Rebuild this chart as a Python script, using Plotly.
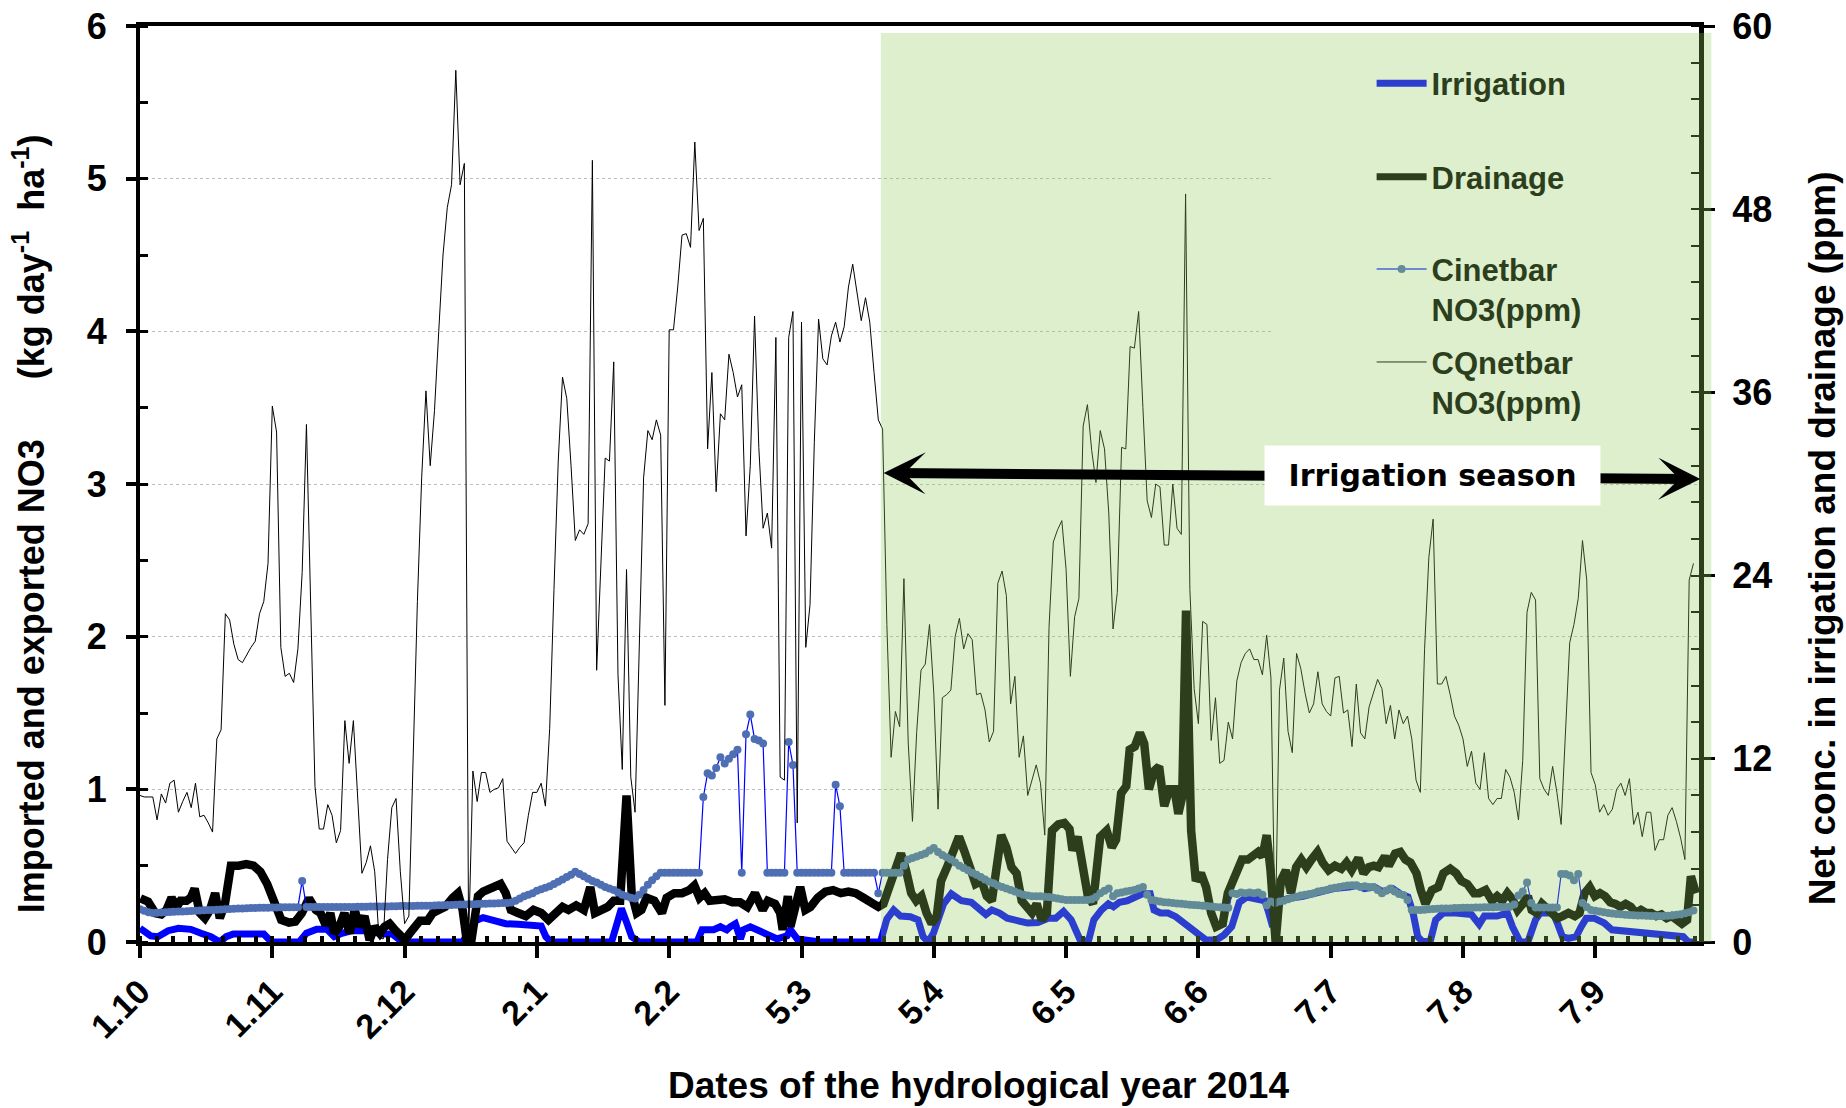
import plotly.graph_objects as go
from datetime import date

# ---------------- data ----------------
START = date(2013, 10, 1)          # day 0 of the hydrological year 2014
tick_dates = [date(2013, 10, 1), date(2013, 11, 1), date(2013, 12, 2), date(2014, 1, 2),
              date(2014, 2, 2), date(2014, 3, 5), date(2014, 4, 5), date(2014, 5, 6),
              date(2014, 6, 6), date(2014, 7, 7), date(2014, 8, 7), date(2014, 9, 7)]
tick_vals = [(d - START).days for d in tick_dates]
tick_text = [f"{d.day}.{d.month}" for d in tick_dates]

season_start = date(2014, 3, 23)   # start of irrigation season

days = list(range(365))

# CQnetbar NO3 (ppm), daily, right axis
cqnetbar_ppm = [
    9.6, 9.5, 9.5, 9.5, 8.0, 9.7, 9.1, 10.4, 10.6, 8.5,
    9.2, 9.8, 8.8, 10.4, 8.2, 8.3, 7.8, 7.2, 13.3, 13.9,
    21.5, 21.1, 19.5, 18.5, 18.3, 18.8, 19.3, 19.7, 21.5, 22.3,
    24.8, 35.1, 33.4, 19.3, 17.4, 17.6, 17.0, 19.2, 24.2, 33.9,
    21.5, 10.2, 7.4, 7.4, 9.0, 8.3, 6.5, 7.3, 14.5, 11.7,
    14.5, 9.6, 4.5, 5.2, 6.3, 4.6, 0.3, 0.2, 5.4, 8.8,
    9.4, 4.6, 1.2, 1.7, 11.9, 22.3, 30.4, 36.1, 31.2, 34.8,
    40.0, 45.0, 48.1, 49.6, 57.1, 49.6, 51.0, 0.0, 11.2, 9.2,
    11.1, 11.1, 9.8, 10.0, 10.1, 10.7, 6.6, 6.2, 5.8, 6.2,
    6.5, 8.3, 9.8, 9.8, 10.4, 8.9, 14.0, 23.1, 31.5, 37.0,
    35.6, 31.2, 26.3, 27.0, 26.7, 27.4, 51.2, 17.8, 24.4, 31.7,
    31.5, 38.0, 17.5, 11.3, 24.4, 10.8, 8.5, 19.8, 30.4, 33.5,
    32.9, 34.2, 33.2, 15.5, 40.1, 40.1, 42.9, 46.3, 46.4, 45.5,
    52.4, 46.6, 47.4, 32.3, 37.3, 29.5, 34.6, 34.2, 38.5, 37.3,
    35.7, 36.5, 26.6, 31.2, 41.0, 32.4, 27.1, 28.1, 25.8, 39.6,
    10.8, 10.6, 39.6, 41.3, 7.8, 40.6, 19.3, 22.1, 32.7, 40.8,
    38.2, 37.8, 39.7, 40.6, 39.3, 40.3, 42.9, 44.4, 42.5, 40.7,
    42.2, 40.6, 37.3, 34.2, 33.6, 20.8, 12.1, 15.1, 14.1, 23.8,
    13.1, 7.9, 13.8, 17.8, 18.2, 20.8, 16.3, 8.7, 16.0, 16.2,
    16.5, 20.0, 21.2, 19.2, 20.2, 19.8, 16.2, 16.3, 15.2, 13.1,
    13.8, 23.5, 24.3, 22.7, 15.6, 17.4, 12.1, 13.5, 9.6, 10.6,
    11.6, 10.4, 7.0, 20.6, 26.2, 27.0, 27.6, 24.4, 17.4, 21.3,
    22.5, 33.8, 35.2, 32.2, 30.1, 33.5, 32.3, 28.1, 20.5, 22.9,
    32.4, 32.3, 39.0, 38.9, 41.3, 35.0, 28.9, 27.8, 30.0, 29.8,
    26.0, 26.0, 30.0, 27.1, 26.7, 49.0, 23.1, 16.6, 14.3, 21.0,
    20.8, 13.2, 16.0, 11.7, 11.9, 14.4, 13.3, 17.1, 18.3, 18.9,
    19.2, 18.5, 18.5, 17.5, 20.1, 17.3, 0.0, 16.5, 18.6, 13.8,
    12.4, 18.9, 17.9, 16.3, 15.0, 15.6, 17.7, 15.6, 15.1, 14.8,
    17.3, 17.4, 15.0, 15.2, 12.8, 16.9, 13.7, 13.3, 15.4, 16.3,
    17.2, 16.6, 14.3, 15.5, 13.3, 15.2, 14.3, 14.8, 13.3, 10.6,
    9.8, 19.2, 25.2, 27.7, 16.9, 16.9, 17.4, 16.2, 14.8, 14.2,
    13.3, 11.5, 12.5, 10.4, 10.0, 12.4, 9.4, 9.0, 9.4, 9.4,
    11.3, 10.8, 9.8, 8.0, 11.9, 21.6, 22.9, 22.4, 10.7, 10.0,
    9.6, 11.5, 9.8, 7.7, 13.8, 19.6, 20.8, 22.5, 26.3, 23.7,
    11.1, 10.3, 8.5, 9.0, 8.3, 8.7, 10.0, 10.4, 9.6, 10.7,
    7.7, 8.5, 6.9, 8.5, 8.5, 6.0, 6.7, 6.7, 8.3, 8.8,
    7.9, 6.8, 5.4, 23.7, 24.8,
]

# Cinetbar NO3 (ppm), daily, right axis
cinetbar_ppm = [
    2.14, 2.05, 1.95, 1.90, 1.92, 1.94, 1.95, 1.97, 1.98, 1.99,
    2.00, 2.02, 2.03, 2.05, 2.06, 2.08, 2.09, 2.10, 2.12, 2.13,
    2.15, 2.16, 2.18, 2.19, 2.20, 2.21, 2.22, 2.23, 2.24, 2.25,
    2.25, 2.26, 2.26, 2.27, 2.27, 2.27, 2.28, 2.28, 4.00, 2.30,
    2.30, 2.30, 2.30, 2.30, 2.30, 2.30, 2.30, 2.30, 2.30, 2.30,
    2.30, 2.31, 2.31, 2.31, 2.32, 2.32, 2.32, 2.33, 2.33, 2.34,
    2.34, 2.35, 2.35, 2.36, 2.36, 2.37, 2.37, 2.38, 2.38, 2.39,
    2.40, 2.41, 2.42, 2.43, 2.44, 2.45, 2.46, 2.47, 2.48, 2.49,
    2.50, 2.51, 2.52, 2.53, 2.54, 2.55, 2.56, 2.58, 2.70, 2.85,
    3.00, 3.10, 3.20, 3.35, 3.45, 3.55, 3.65, 3.80, 3.95, 4.10,
    4.25, 4.40, 4.60, 4.45, 4.30, 4.15, 4.00, 3.90, 3.75, 3.60,
    3.50, 3.40, 3.25, 3.10, 3.00, 2.90, 2.85, 3.10, 3.40, 3.75,
    4.05, 4.30, 4.54, 4.54, 4.54, 4.54, 4.54, 4.54, 4.54, 4.54,
    4.54, 4.54, 9.50, 11.05, 10.90, 11.40, 12.10, 11.70, 12.00, 12.30,
    12.60, 4.54, 13.60, 14.90, 13.30, 13.20, 13.00, 4.54, 4.54, 4.54,
    4.54, 4.54, 13.10, 11.60, 4.54, 4.54, 4.54, 4.54, 4.54, 4.54,
    4.54, 4.54, 4.54, 10.30, 8.90, 4.54, 4.54, 4.54, 4.54, 4.54,
    4.54, 4.54, 4.54, 3.20, 4.54, 4.54, 4.54, 4.54, 4.54, 5.00,
    5.40, 5.50, 5.60, 5.70, 5.80, 6.00, 6.15, 5.90, 5.70, 5.55,
    5.40, 5.20, 5.00, 4.85, 4.70, 4.54, 4.40, 4.25, 4.10, 3.95,
    3.85, 3.70, 3.60, 3.50, 3.40, 3.30, 3.20, 3.10, 3.05, 3.00,
    3.00, 3.00, 2.97, 2.95, 2.90, 2.85, 2.80, 2.75, 2.75, 2.75,
    2.75, 2.75, 2.75, 2.80, 2.95, 3.20, 3.35, 3.50, 3.00, 3.20,
    3.25, 3.30, 3.35, 3.40, 3.50, 3.60, 3.10, 2.75, 2.70, 2.65,
    2.60, 2.58, 2.55, 2.52, 2.50, 2.47, 2.44, 2.42, 2.40, 2.38,
    2.35, 2.33, 2.30, 2.28, 2.26, 2.24, 3.19, 3.15, 3.25, 3.20,
    3.25, 3.20, 3.25, 3.10, 2.40, 2.65, 2.55, 2.65, 2.70, 2.80,
    2.90, 2.97, 3.05, 3.10, 3.15, 3.20, 3.30, 3.35, 3.40, 3.50,
    3.55, 3.60, 3.65, 3.70, 3.72, 3.72, 3.60, 3.65, 3.60, 3.60,
    3.40, 3.20, 3.35, 3.50, 3.30, 3.15, 3.08, 2.75, 2.10, 2.10,
    2.10, 2.12, 2.14, 2.16, 2.18, 2.20, 2.20, 2.20, 2.22, 2.22,
    2.24, 2.25, 2.25, 2.26, 2.26, 2.27, 2.28, 2.28, 2.29, 2.30,
    2.30, 2.31, 2.45, 3.05, 3.30, 3.90, 2.55, 2.26, 2.26, 2.26,
    2.26, 2.26, 2.26, 4.45, 4.45, 4.35, 4.05, 4.45, 2.55, 2.30,
    2.10, 2.05, 2.00, 1.95, 1.90, 1.87, 1.84, 1.81, 1.79, 1.77,
    1.76, 1.74, 1.73, 1.72, 1.71, 1.70, 1.70, 1.71, 1.72, 1.74,
    1.78, 1.82, 1.88, 1.95, 2.06,
]

# Irrigation NO3 (kg day-1 ha-1), vertices: day / value, left axis
irrigation_day = [
    0, 2.5, 4.2, 6.6, 9, 11.9, 14.3, 16.6, 18.7, 20.2, 21.9, 25.5, 29, 30.8, 37.3, 39, 41.4,
    43.8, 45.5, 47.3, 49.7, 53.2, 55.6, 56.8, 59.1, 61.5, 75.6, 78.6, 80.4, 82.1, 83.9, 85.7,
    88.6, 92.2, 94, 95.1, 96.3, 110.5, 111.6, 112.8, 114, 115.2, 117, 130.5, 131.7, 134.4,
    136, 137.5, 138.3, 139.5, 140.7, 141.4, 143, 144.6, 146.9, 149.3, 151.6, 152.4, 154,
    159.4, 173.5, 175, 176.6, 178.2, 180.5, 182.3, 183.5, 184.7, 185.9, 187.1, 188.3, 190.1,
    191.3, 192.5, 194.8, 196.6, 198.2, 199.6, 201.4, 203.2, 205.6, 208, 210.4, 212.8, 214.6,
    216.4, 218.2, 219.4, 220.5, 222.3, 223.5, 225.3, 226.9, 228.1, 229.5, 231.3, 233.1,
    234.9, 236.7, 237.6, 239.1, 240.9, 242.7, 244.5, 246.3, 248, 249.8, 252.2, 254, 255.8,
    257.6, 259.4, 261.8, 263.6, 264.5, 265.4, 266.6, 269, 272.5, 276.1, 279.7, 283.3, 285.1,
    286.9, 289.3, 291.1, 293.5, 295.3, 297.1, 298.3, 299.4, 300.6, 302.4, 303.6, 305.4,
    308.4, 312, 313.8, 315, 318, 320.4, 321.6, 323.4, 325.2, 327, 328.1, 331.1, 332.1, 333.3,
    334.7, 336.5, 337.7, 338.9, 340.7, 343.1, 344.9, 347.3, 350.3, 352.6, 355, 357.4, 359.8,
    361.6, 362.8, 364.6,
]
irrigation_kg = [
    0.09, 0.04, 0.035, 0.074, 0.09, 0.083, 0.057, 0.035, 0.0, 0.035, 0.052, 0.052, 0.052, 0.0,
    0.0, 0.057, 0.083, 0.083, 0.035, 0.057, 0.074, 0.074, 0.057, 0.052, 0.052, 0.0, 0.0, 0.14,
    0.16, 0.15, 0.13, 0.12, 0.116, 0.116, 0.105, 0.035, 0.0, 0.0, 0.116, 0.22, 0.13, 0.035,
    0.0, 0.0, 0.08, 0.08, 0.10, 0.08, 0.10, 0.12, 0.02, 0.08, 0.10, 0.08, 0.06, 0.02, 0.04,
    0.08, 0.02, 0.0, 0.0, 0.15, 0.21, 0.17, 0.166, 0.145, 0.035, 0.0, 0.057, 0.145, 0.25,
    0.316, 0.295, 0.27, 0.26, 0.21, 0.18, 0.21, 0.19, 0.156, 0.135, 0.124, 0.127, 0.156,
    0.156, 0.2, 0.145, 0.057, 0.0, 0.013, 0.145, 0.21, 0.25, 0.23, 0.26, 0.27, 0.295, 0.316,
    0.316, 0.21, 0.19, 0.19, 0.166, 0.124, 0.08, 0.046, 0.013, 0.013, 0.046, 0.1, 0.26,
    0.295, 0.285, 0.27, 0.19, 0.1, 0.26, 0.285, 0.30, 0.33, 0.35, 0.36, 0.37, 0.35, 0.36,
    0.33, 0.35, 0.316, 0.295, 0.19, 0.035, 0.0, 0.013, 0.145, 0.19, 0.19, 0.18, 0.116, 0.17,
    0.17, 0.19, 0.1, 0.0, 0.0, 0.145, 0.19, 0.19, 0.124, 0.035, 0.024, 0.035, 0.1, 0.156,
    0.156, 0.124, 0.08, 0.074, 0.068, 0.057, 0.057, 0.046, 0.046, 0.035, 0.0, 0.0,
]

# Drainage NO3 (kg day-1 ha-1), vertices: day / value, left axis
drainage_day = [
    0.1, 1.9, 3.6, 5.0, 6.2, 7.4, 8.6, 9.5, 10.9, 11.9, 12.8, 14.0, 15.2, 16.4, 17.6, 18.7,
    19.9, 21.3, 23.1, 24.9, 26.6, 28.2, 29.8, 31.4, 33.1, 34.9, 36.4, 37.9, 39.6, 41.2, 42.3,
    43.5, 44.6, 45.5, 46.7, 47.9, 49.1, 50.3, 51.4, 52.6, 53.8, 55.0, 56.2, 57.3, 58.5, 59.7,
    60.9, 62.1, 63.2, 64.4, 65.6, 67.4, 68.6, 70, 71.5, 73.3, 74.5, 75.6, 76.6, 77.6, 79.2,
    80.4, 81.8, 83.3, 84.5, 85.7, 86.9, 88.6, 90.4, 92.2, 94, 95.7, 97.5, 99, 100.4, 102.2,
    104, 105.5, 106.6, 108.1, 109.6, 111, 112.5, 114, 115.2, 116.4, 117.5, 118.7, 120.5,
    122.3, 123.4, 125.2, 127, 128.7, 129.9, 131.1, 132.3, 133.5, 135.2, 137, 138.8, 140.6,
    142.3, 144.1, 145.9, 147.1, 148.8, 150, 150.6, 151.8, 152.4, 153.5, 154.7, 155.9, 157.1,
    158.8, 160.6, 162.4, 164.2, 166, 167.7, 169.5, 171.2, 173, 174.2, 175.4, 176.6, 177.4,
    178.3, 179.5, 180.7, 181.9, 183.1, 184.3, 185.5, 186.7, 187.7, 189.1, 190.7, 191.9,
    193.1, 194.2, 195.8, 197.2, 198.4, 199.6, 200.8, 201.8, 203, 204.2, 205.4, 206.6, 207.8,
    209, 210.1, 211.3, 212.5, 213.7, 215.2, 216.6, 217.8, 218.5, 219.7, 220.9, 222.1, 223.3,
    225, 226.5, 227.7, 228.7, 229.9, 231.1, 231.9, 233.1, 234.3, 235.3, 236.4, 237.6, 238.8,
    240, 241.2, 242.4, 243.3, 244.2, 245.1, 246.3, 247.4, 248.6, 249.8, 251, 252.2, 253.7,
    254.9, 256.1, 257, 258.2, 259.6, 260.8, 262, 263, 264, 264.9, 266.1, 267.3, 268.5, 269.7,
    270.9, 272.1, 273.3, 274.5, 275.9, 277.1, 278.5, 280, 281.5, 282.7, 283.9, 285.5, 286.7,
    287.9, 289.1, 290.2, 291.7, 292.6, 294.1, 295.3, 296.5, 297.7, 299.1, 300.1, 301.2,
    302.7, 304.2, 305.4, 307, 308.4, 309.6, 311, 312.6, 313.8, 315.3, 316.8, 318, 319.2,
    320.4, 321.6, 322.8, 324, 325.2, 326.1, 327.3, 328.5, 329.7, 330.9, 332.1, 333.3, 334.7,
    336.2, 337.3, 338.5, 339.7, 340.9, 342.1, 343.3, 344.5, 345.7, 346.9, 348.1, 349.3,
    350.5, 351.7, 352.9, 354.1, 355.3, 356.5, 357.7, 358.9, 360.1, 361.3, 362.5, 363.4, 364.6,
]
drainage_kg = [
    0.286, 0.264, 0.188, 0.18, 0.21, 0.29, 0.23, 0.27, 0.27, 0.29, 0.35, 0.19, 0.156, 0.21,
    0.32, 0.156, 0.25, 0.50, 0.50, 0.51, 0.50, 0.46, 0.38, 0.27, 0.145, 0.127, 0.134, 0.188,
    0.286, 0.21, 0.19, 0.11, 0.19, 0.057, 0.10, 0.19, 0.057, 0.21, 0.10, 0.17, 0.013, 0.10,
    0.057, 0.10, 0.12, 0.08, 0.035, 0.013, 0.057, 0.10, 0.14, 0.14, 0.19, 0.21, 0.23, 0.29,
    0.32, 0.21, 0.0, 0.0, 0.30, 0.33, 0.35, 0.36, 0.38, 0.32, 0.21, 0.19, 0.17, 0.21, 0.19,
    0.145, 0.19, 0.23, 0.21, 0.24, 0.21, 0.36, 0.19, 0.21, 0.23, 0.27, 0.27, 0.96, 0.32,
    0.19, 0.21, 0.29, 0.27, 0.19, 0.29, 0.32, 0.32, 0.34, 0.37, 0.29, 0.32, 0.27, 0.27, 0.28,
    0.26, 0.26, 0.23, 0.32, 0.21, 0.27, 0.25, 0.19, 0.08, 0.30, 0.10, 0.21, 0.36, 0.21, 0.23,
    0.29, 0.33, 0.34, 0.32, 0.33, 0.32, 0.29, 0.26, 0.23, 0.25, 0.36, 0.43, 0.50, 0.58, 0.47,
    0.32, 0.27, 0.30, 0.19, 0.12, 0.17, 0.40, 0.49, 0.62, 0.69, 0.60, 0.49, 0.38, 0.40, 0.30,
    0.27, 0.51, 0.70, 0.62, 0.49, 0.45, 0.27, 0.23, 0.19, 0.25, 0.145, 0.19, 0.73, 0.77, 0.78,
    0.74, 0.60, 0.69, 0.49, 0.30, 0.25, 0.69, 0.73, 0.62, 0.67, 0.975, 1.02, 1.26, 1.28, 1.37,
    1.30, 1.00, 1.12, 1.15, 0.89, 1.00, 1.00, 0.84, 0.95, 2.17, 0.73, 0.40, 0.45, 0.36, 0.19,
    0.10, 0.12, 0.32, 0.40, 0.47, 0.54, 0.54, 0.56, 0.59, 0.56, 0.70, 0.47, 0.0, 0.40, 0.47,
    0.32, 0.49, 0.54, 0.49, 0.54, 0.59, 0.52, 0.47, 0.50, 0.48, 0.52, 0.47, 0.55, 0.45, 0.49,
    0.50, 0.49, 0.56, 0.50, 0.58, 0.59, 0.54, 0.52, 0.45, 0.34, 0.25, 0.34, 0.36, 0.45, 0.48,
    0.45, 0.40, 0.38, 0.32, 0.32, 0.34, 0.27, 0.30, 0.27, 0.32, 0.28, 0.21, 0.25, 0.30, 0.21,
    0.19, 0.25, 0.22, 0.19, 0.156, 0.17, 0.19, 0.17, 0.19, 0.32, 0.36, 0.30, 0.32, 0.30, 0.26,
    0.25, 0.23, 0.25, 0.23, 0.19, 0.21, 0.19, 0.19, 0.17, 0.18, 0.156, 0.17, 0.145, 0.12,
    0.145, 0.43, 0.32,
]

assert len(cqnetbar_ppm) == 365 and len(cinetbar_ppm) == 365
assert len(irrigation_day) == len(irrigation_kg)
assert len(drainage_day) == len(drainage_kg)

# ---------------- styling ----------------
FONT = "Liberation Sans, Arial, sans-serif"
TINT_TEXT = "#2c3e1c"            # black seen through the green overlay
season_x0 = (season_start - START).days + 0.6

fig = go.Figure()

fig.add_trace(go.Scatter(x=irrigation_day, y=irrigation_kg, mode="lines", name="Irrigation",
                         line=dict(color="#0000ff", width=7), showlegend=False, yaxis="y"))
fig.add_trace(go.Scatter(x=drainage_day, y=drainage_kg, mode="lines", name="Drainage",
                         line=dict(color="#000000", width=8.5), showlegend=False, yaxis="y"))
fig.add_trace(go.Scatter(x=days, y=cinetbar_ppm, mode="lines+markers", name="Cinetbar NO3(ppm)",
                         line=dict(color="#0000ff", width=1.2),
                         marker=dict(color="#4f6fb4", size=8, line=dict(width=0)),
                         showlegend=False, yaxis="y2"))
fig.add_trace(go.Scatter(x=days, y=cqnetbar_ppm, mode="lines", name="CQnetbar NO3(ppm)",
                         line=dict(color="#000000", width=1), showlegend=False, yaxis="y2"))

# legend entries (colours as they appear under the green season overlay)
fig.add_trace(go.Scatter(x=[None], y=[None], mode="lines", name="Irrigation",
                         line=dict(color="#2c3ecd", width=7), legend="legend"))
fig.add_trace(go.Scatter(x=[None], y=[None], mode="lines", name="Drainage",
                         line=dict(color=TINT_TEXT, width=7), legend="legend2"))
fig.add_trace(go.Scatter(x=[None], y=[None], mode="lines+markers", name="Cinetbar<br>NO3(ppm)",
                         line=dict(color="#4a66d6", width=1.5),
                         marker=dict(color="#638c99", size=8), legend="legend3"))
fig.add_trace(go.Scatter(x=[None], y=[None], mode="lines", name="CQnetbar<br>NO3(ppm)",
                         line=dict(color=TINT_TEXT, width=1), legend="legend4"))

leg = dict(bgcolor="rgba(0,0,0,0)", borderwidth=0, itemwidth=50, xanchor="left",
           yanchor="middle", valign="top",
           font=dict(family=FONT, size=31, color=TINT_TEXT, weight="bold"))
ytickfont = dict(family=FONT, size=36, color="black", weight="bold")
xtickfont = dict(family=FONT, size=34, color="black", weight="bold")

fig.update_layout(
    width=1846, height=1108,
    margin=dict(l=140, r=147, t=26, b=166, autoexpand=False),
    paper_bgcolor="white", plot_bgcolor="white",
    showlegend=True,
    legend=dict(x=0.79, y=0.937, **leg),
    legend2=dict(x=0.79, y=0.835, **leg),
    legend3=dict(x=0.79, y=0.7125, **leg),
    legend4=dict(x=0.79, y=0.611, **leg),
    xaxis=dict(range=[0, 365.3], tickmode="array", tickvals=tick_vals, ticktext=tick_text,
               tickangle=-45, ticks="outside", ticklen=12, tickwidth=4, tickcolor="black",
               showline=True, linewidth=4, linecolor="black", mirror=True, automargin=False,
               showgrid=False, zeroline=False, tickfont=xtickfont,
               minor=dict(tickmode="linear", tick0=0, dtick=31 / 8, ticks="inside",
                          ticklen=6, tickwidth=4, tickcolor="black", showgrid=False)),
    yaxis=dict(range=[0, 6], tick0=0, dtick=1, ticks="outside", ticklen=10, tickwidth=4,
               tickcolor="black", showline=True, linewidth=4, linecolor="black",
               showgrid=True, gridcolor="#bdbdbd", griddash="dot", gridwidth=1,
               zeroline=False, tickfont=ytickfont, ticklabelstandoff=12, automargin=False,
               minor=dict(dtick=0.5, ticks="inside", ticklen=8, tickwidth=3,
                          tickcolor="black", showgrid=False)),
    yaxis2=dict(overlaying="y", side="right", range=[0, 60], tick0=0, dtick=12,
                ticks="outside", ticklen=11, tickwidth=3, tickcolor="black",
                showline=True, linewidth=5, linecolor="black", showgrid=False,
                zeroline=False, tickfont=ytickfont, ticklabelstandoff=10, automargin=False,
                minor=dict(dtick=2.4, ticks="inside", ticklen=8, tickwidth=2,
                           tickcolor="black", showgrid=False)),
)

# white legend area (hides the grid lines) and semi-transparent green irrigation-season overlay
fig.add_shape(type="rect", xref="x", yref="y", x0=265.5, x1=365.3, y0=3.6, y1=6,
              fillcolor="white", line=dict(width=0), layer="between")
fig.add_shape(type="rect", xref="paper", yref="paper",
              x0=(season_x0) / 365.3, x1=1.0079, y0=0, y1=0.9924,
              fillcolor="rgb(144,203,92)", opacity=0.306, line=dict(width=0), layer="above")

# double-headed arrow + label
fig.add_annotation(x=365.6, y=3.033, ax=173.9, ay=3.072, xref="x", yref="y",
                   axref="x", ayref="y", text="", showarrow=True,
                   arrowhead=3, startarrowhead=3, arrowside="end+start",
                   arrowsize=0.7, startarrowsize=0.7, arrowwidth=10, arrowcolor="black",
                   standoff=0, startstandoff=0)
fig.add_annotation(x=302.9, y=3.054, xref="x", yref="y", text="Irrigation season",
                   showarrow=False, bgcolor="white", width=333, height=57,
                   font=dict(family="DejaVu Sans, sans-serif", size=30, color="black",
                             weight="bold"))

# axis titles
titlefont = dict(family=FONT, size=37, color="black", weight="bold")
nb = "\u00a0"
fig.add_annotation(x=-0.071, y=0.4563, xref="paper", yref="paper", textangle=-90,
                   text=f"Imported and exported NO3{nb * 6}(kg day<sup>-1</sup>{nb * 2}ha<sup>-1</sup>)",
                   showarrow=False, font=dict(family=FONT, size=36, color="black", weight="bold"),
                   xanchor="center", yanchor="middle")
fig.add_annotation(x=1.0791, y=0.441, xref="paper", yref="paper", textangle=-90,
                   text="Net conc. in irrigation and drainage (ppm)",
                   showarrow=False, font=titlefont, xanchor="center", yanchor="middle")
fig.add_annotation(x=0.5377, y=-0.1572, xref="paper", yref="paper",
                   text="Dates of the hydrological year 2014",
                   showarrow=False, font=titlefont, xanchor="center", yanchor="middle")

fig.write_html("out.html", config={"displayModeBar": False},
               post_script="document.body.style.margin='0';")
